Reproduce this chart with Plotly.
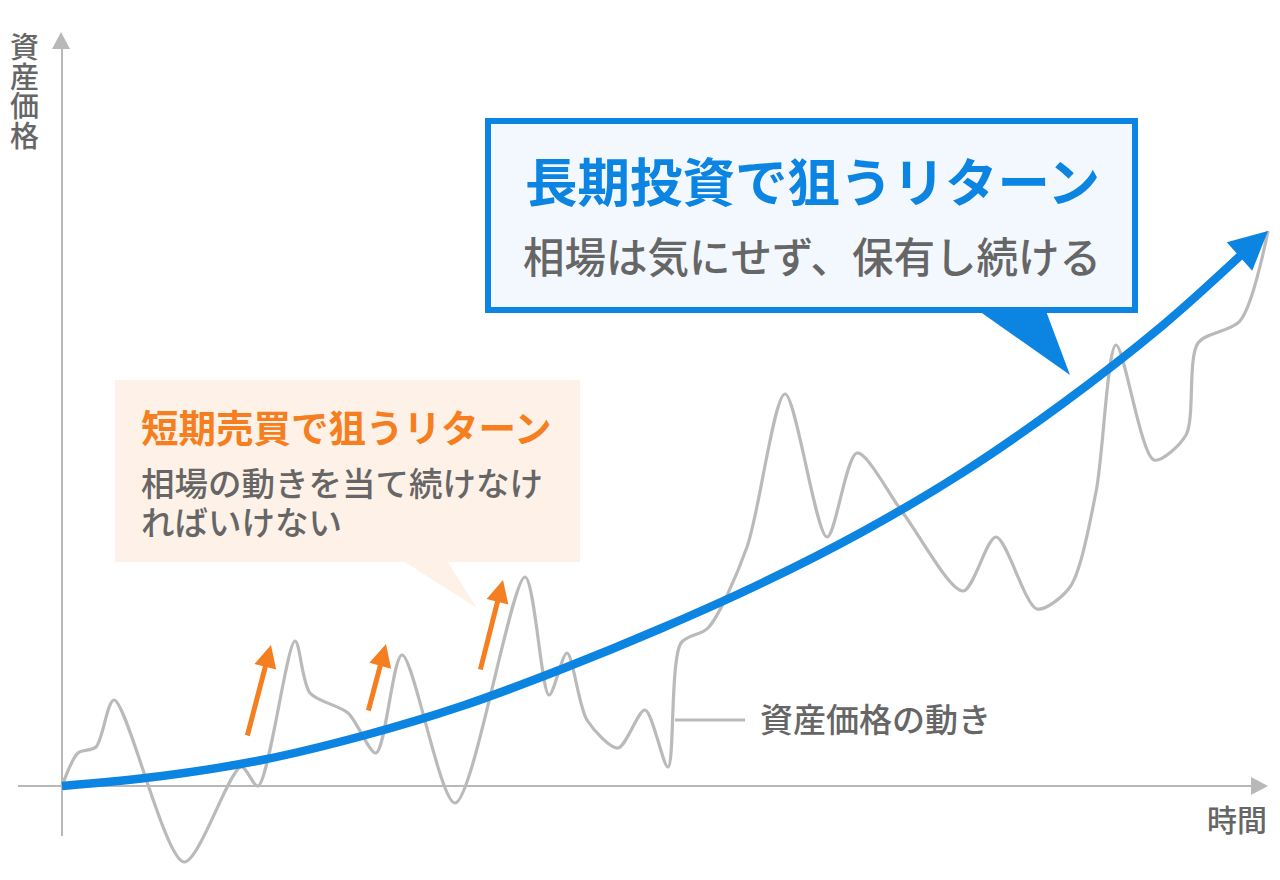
import plotly.graph_objects as go

# ---------------- data (time, price) ----------------
# gray "asset price movement" line
time_gray = [0, 16, 34, 52, 122, 179, 196, 233, 248, 286, 314, 340, 393, 463,
             487, 505, 525, 556, 583, 606, 619, 646, 685, 723, 765, 795, 841,
             901, 934, 975, 1008, 1034, 1054, 1092, 1124, 1136, 1178, 1206]
price_gray = [0, 33, 39, 86, -76, 19, 0, 145, 93, 73, 33, 131, -17, 209,
              91, 133, 66, 38, 76, 19, 143, 158, 239, 392, 249, 333, 273,
              195, 249, 177, 199, 294, 441, 326, 351, 443, 465, 555]

# blue long-term trend
time_blue = [0, 100, 200, 300, 400, 500, 600, 700, 800, 900, 1000, 1100, 1178, 1206]
price_blue = [0, 10, 26, 50, 80, 117, 158, 203, 254, 313, 382, 460, 530, 555]

# orange short-term arrows (tail -> tip)
arrow_tail_t = [185, 306, 418]
arrow_tail_p = [49, 74, 115]
arrow_tip_t = [209, 324, 441]
arrow_tip_p = [141, 142, 206]

# texts
y_axis_label = "資産価格"
x_axis_label = "時間"
series_label = "資産価格の動き"
long_title = "長期投資で狙うリターン"
long_sub = "相場は気にせず、保有し続ける"
short_title = "短期売買で狙うリターン"
short_sub = ["相場の動きを当て続けなけ", "ればいけない"]

# ---------------- styling ----------------
W, H = 1280, 880
OX, OY = 62, 786          # pixel position of the origin
BLUE = "#0b84e2"
ORANGE = "#f57f20"
GRAY_LINE = "#bababa"
AXIS = "#b8b8b8"
TEXT = "#666666"
FONT = "Noto Sans CJK JP"


def tx(px):
    return px - OX


def ty(py):
    return OY - py


def tri(pts):
    return "M " + " L ".join(f"{tx(a)},{ty(b)}" for a, b in pts) + " Z"


fig = go.Figure()

fig.add_trace(go.Scatter(
    x=time_gray, y=price_gray, mode="lines",
    line=dict(color=GRAY_LINE, width=3.2, shape="spline", smoothing=0.8),
    hoverinfo="skip", showlegend=False))

fig.add_trace(go.Scatter(
    x=time_blue[:-1], y=price_blue[:-1], mode="lines",
    line=dict(color=BLUE, width=8.5, shape="spline", smoothing=1.0),
    hoverinfo="skip", showlegend=False))

for i in range(len(arrow_tail_t)):
    fig.add_annotation(
        x=arrow_tip_t[i], y=arrow_tip_p[i], ax=arrow_tail_t[i], ay=arrow_tail_p[i],
        xref="x", yref="y", axref="x", ayref="y", text="", showarrow=True,
        arrowhead=2, arrowwidth=5, arrowsize=0.9, arrowcolor=ORANGE)

# blue arrowhead
fig.add_annotation(
    x=time_blue[-1], y=price_blue[-1], ax=time_blue[-2], ay=price_blue[-2],
    xref="x", yref="y", axref="x", ayref="y", text="", showarrow=True,
    arrowhead=2, arrowwidth=8.5, arrowsize=0.9, arrowcolor=BLUE)

shapes = []
# axes
shapes.append(dict(type="line", xref="x", yref="y", x0=tx(18), x1=tx(1254), y0=0, y1=0,
                   line=dict(color=AXIS, width=2), layer="below"))
shapes.append(dict(type="path", xref="x", yref="y", path=tri([(1251, 777), (1268, 786), (1251, 795)]),
                   fillcolor=AXIS, line=dict(width=0), layer="below"))
shapes.append(dict(type="line", xref="x", yref="y", x0=0, x1=0, y0=ty(836), y1=ty(47),
                   line=dict(color=AXIS, width=2), layer="below"))
shapes.append(dict(type="path", xref="x", yref="y", path=tri([(52, 49), (61, 32), (70, 49)]),
                   fillcolor=AXIS, line=dict(width=0), layer="below"))
# label connector
shapes.append(dict(type="line", xref="x", yref="y", x0=tx(675), x1=tx(745), y0=ty(720), y1=ty(720),
                   line=dict(color=GRAY_LINE, width=3)))
# orange box + pointer
shapes.append(dict(type="rect", xref="x", yref="y", x0=tx(115), x1=tx(580), y0=ty(562), y1=ty(380),
                   fillcolor="#fef1e7", line=dict(width=0)))
shapes.append(dict(type="path", xref="x", yref="y", path=tri([(403, 561), (447, 561), (477, 608)]),
                   fillcolor="#fef1e7", line=dict(width=0)))
# blue box + pointer
shapes.append(dict(type="rect", xref="x", yref="y", x0=tx(488), x1=tx(1135), y0=ty(310), y1=ty(121),
                   fillcolor="#f3f8fe", line=dict(color=BLUE, width=6)))
shapes.append(dict(type="path", xref="x", yref="y", path=tri([(979, 311), (1046, 311), (1070, 375)]),
                   fillcolor=BLUE, line=dict(width=0)))

# texts
ann = []
for k, ch in enumerate(y_axis_label):
    ann.append(dict(x=tx(24), y=ty(45 + 29.5 * k), text=ch,
                    font=dict(size=29, color=TEXT, family=FONT, weight=500)))
ann.append(dict(x=tx(1237), y=ty(818), text=x_axis_label,
                font=dict(size=30, color=TEXT, family=FONT, weight=500)))
ann.append(dict(x=tx(758), y=ty(718), text=series_label, xanchor="left",
                font=dict(size=33, color=TEXT, family=FONT, weight=500)))
ann.append(dict(x=tx(812), y=ty(179), text=f"<b>{long_title}</b>", font=dict(size=52.5, color=BLUE, family=FONT)))
ann.append(dict(x=tx(812), y=ty(255), text=long_sub,
                font=dict(size=41.5, color=TEXT, family=FONT, weight=500)))
ann.append(dict(x=tx(139), y=ty(425), text=f"<b>{short_title}</b>", xanchor="left",
                font=dict(size=37.5, color=ORANGE, family=FONT)))
ann.append(dict(x=tx(139), y=ty(481), text=short_sub[0], xanchor="left",
                font=dict(size=33.5, color=TEXT, family=FONT, weight=500)))
ann.append(dict(x=tx(139), y=ty(520), text=short_sub[1], xanchor="left",
                font=dict(size=33.5, color=TEXT, family=FONT, weight=500)))
for a in ann:
    a.update(xref="x", yref="y", showarrow=False)
    a.setdefault("xanchor", "center")
    a.setdefault("yanchor", "middle")
    fig.add_annotation(**a)

fig.update_layout(
    width=W, height=H, autosize=False,
    margin=dict(l=0, r=0, t=0, b=0, pad=0),
    paper_bgcolor="white", plot_bgcolor="white",
    shapes=shapes,
    xaxis=dict(range=[-OX, W - OX], visible=False, fixedrange=True),
    yaxis=dict(range=[OY - H, OY], visible=False, fixedrange=True),
    showlegend=False,
)

fig.write_html("out.html", config={"displayModeBar": False},
               post_script="document.body.style.margin='0px';document.body.style.overflow='hidden';")
